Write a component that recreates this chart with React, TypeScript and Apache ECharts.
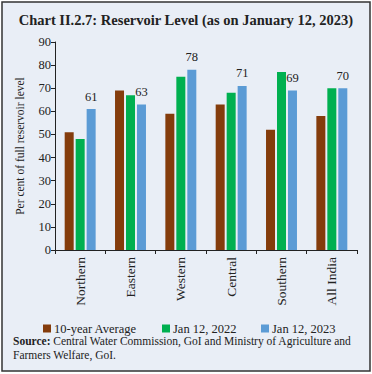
import React, { useEffect, useRef } from "react";
import * as echarts from "echarts";

const categories = ["Northern", "Eastern", "Western", "Central", "Southern", "All India"];
const tenYearAvg = [51, 69, 59, 63, 52, 58];
const jan2022 = [48, 67, 75, 68, 77, 70];
const jan2023 = [61, 63, 78, 71, 69, 70];
const seriesNames = ["10-year Average", "Jan 12, 2022", "Jan 12, 2023"];

const SERIF = "'Liberation Serif', 'DejaVu Serif', serif";

export default function App() {
  const ref = useRef<HTMLDivElement>(null);
  useEffect(() => {
    if (!ref.current) return;
    const chart = echarts.init(ref.current, undefined, { renderer: "svg" });
    const colors = ["#843c0c", "#00b050", "#5b9bd5"];
    const mk = (name: string, data: number[], i: number, label: boolean) => ({
      name,
      type: "bar",
      data,
      barWidth: 9,
      barGap: "22%",
      itemStyle: { color: colors[i] },
      label: label
        ? { show: true, position: "top", distance: 6, fontFamily: SERIF, fontSize: 12.5, color: "#222" }
        : { show: false },
    });
    chart.setOption({
      animation: false,
      backgroundColor: "#ffffff",
      graphic: [
        {
          type: "rect",
          z: -10,
          shape: { x: 2, y: 2, width: 368, height: 369 },
          style: { fill: "#e9eef6", stroke: "#333", lineWidth: 1.5 },
        },
        {
          type: "text",
          left: "center",
          top: 12,
          style: {
            text: "Chart II.2.7: Reservoir Level (as on January 12, 2023)",
            font: `bold 14.5px ${SERIF}`,
            fill: "#222",
          },
        },
        {
          type: "text",
          left: 13,
          top: 334,
          style: {
            text: "{b|Source:} Central Water Commission, GoI and Ministry of Agriculture and\nFarmers Welfare, GoI.",
            rich: {
              b: { fontFamily: SERIF, fontSize: 11.5, fontWeight: "bold", fill: "#222", lineHeight: 14 },
            },
            fontFamily: SERIF,
            fontSize: 11.5,
            lineHeight: 14,
            fill: "#222",
          },
        },
      ],
      legend: [0, 1, 2].map((i) => ({
        data: [seriesNames[i]],
        left: [38, 157, 256][i],
        top: 317,
        icon: "rect",
        itemWidth: 8,
        itemHeight: 8,
        itemGap: 4,
        textStyle: { fontFamily: SERIF, fontSize: 12.5, color: "#222", padding: [0, 0, 0, -2] },
      })),
      grid: { left: 55, right: 15, top: 42, bottom: 124, containLabel: false },
      xAxis: {
        type: "category",
        data: categories,
        axisLine: { lineStyle: { color: "#222", width: 1 } },
        axisTick: { show: true, alignWithLabel: false, length: 4, lineStyle: { color: "#222" } },
        axisLabel: { rotate: 90, margin: 7, fontFamily: SERIF, fontSize: 13.5, color: "#222" },
      },
      yAxis: {
        type: "value",
        min: 0,
        max: 90,
        interval: 10,
        name: "Per cent of full reservoir level",
        nameLocation: "middle",
        nameRotate: 90,
        nameGap: 29,
        nameTextStyle: { fontFamily: SERIF, fontSize: 11.5, color: "#222" },
        axisLine: { show: true, lineStyle: { color: "#222", width: 1 } },
        axisTick: { show: true, length: 4, lineStyle: { color: "#222" } },
        axisLabel: { margin: 4, fontFamily: SERIF, fontSize: 12.5, color: "#222" },
        splitLine: { show: false },
      },
      series: [
        mk(seriesNames[0], tenYearAvg, 0, false),
        mk(seriesNames[1], jan2022, 1, false),
        mk(seriesNames[2], jan2023, 2, true),
      ],
    });
    return () => chart.dispose();
  }, []);
  return <div ref={ref} style={{ position: "fixed", left: 0, top: 0, width: 372, height: 374 }} />;
}
